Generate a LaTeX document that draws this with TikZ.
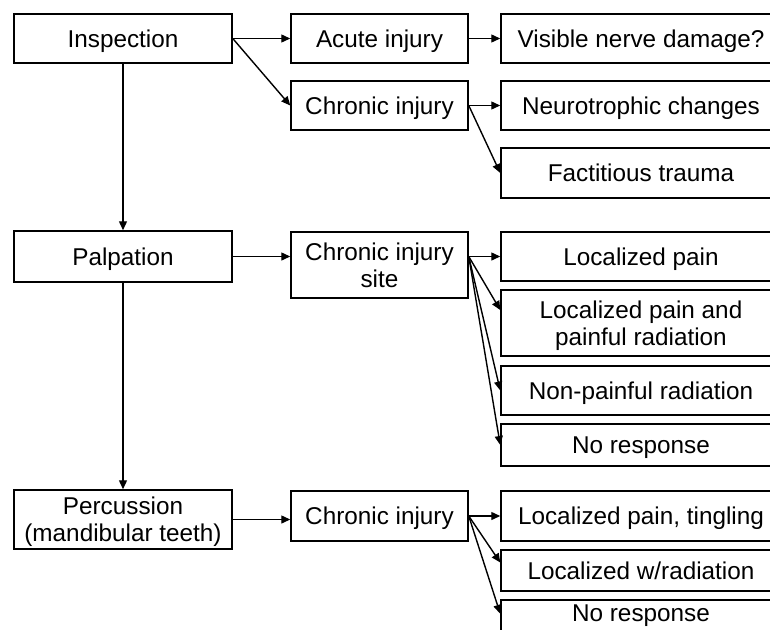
\documentclass[tikz,border=0pt]{standalone}
\usepackage{fontspec}
\setmainfont{Liberation Sans}
\usetikzlibrary{arrows.meta}

\begin{document}
\begin{tikzpicture}[x=1pt,y=-1pt,
        box/.style={draw,rectangle,line width=1.5pt,inner sep=0pt,
            font=\fontsize{24.3}{27}\selectfont,align=center,text depth=0pt},
        small/.style={box,minimum width=218pt},
        mid/.style={box,minimum width=177pt},
        wide/.style={box,minimum width=280pt},
        arr/.style={-{Triangle[length=9pt,width=8pt]},line width=1.4pt}]
\useasboundingbox (0,0) rectangle (770,629);
\clip (0,0) rectangle (770,629);

% inspection
\node[small,minimum height=49pt] (insp) at (123,38.5) {Inspection};
\node[mid,minimum height=49pt] (acute) at (379.5,38.5) {Acute injury};
\node[mid,minimum height=49pt] (chron) at (379.5,105.5) {Chronic injury};
\node[wide,minimum height=49pt] (visible) at (641,38.5) {Visible nerve damage?};
\node[wide,minimum height=49pt] (neuro) at (641,105.5) {Neurotrophic changes};
\node[wide,minimum height=50pt] (fact) at (641,173) {Factitious trauma};

\draw[arr] (insp.east) -- (acute.west);
\draw[arr] (insp.east) -- (chron.west);
\draw[arr] (acute.east) -- (visible.west);
\draw[arr] (chron.east) -- (neuro.west);
\draw[arr] (chron.east) -- (fact.west);

% palpation
\node[small,minimum height=51pt] (palp) at (123,256.5) {Palpation};
\node[mid,minimum height=66pt] (site) at (379.5,265) {Chronic injury\\site};
\node[wide,minimum height=49pt] (lp) at (641,256.5) {Localized pain};
\node[wide,minimum height=66pt] (lpr) at (641,323) {Localized pain and\\painful radiation};
\node[wide,minimum height=49pt] (npr) at (641,390.5) {Non-painful radiation};
\node[wide,minimum height=42pt] (nra) at (641,445) {No response};
\coordinate (sitefan) at (site.east |- lp.west);

\draw[arr] (insp.south) -- (palp.north);
\draw[arr] (palp.east) -- (palp.east -| site.west);
\draw[arr] (sitefan) -- (lp.west);
\draw[arr] (sitefan) -- ([yshift=13pt]lpr.west);
\draw[arr] (sitefan) -- (npr.west);
\draw[arr] (sitefan) -- (nra.west);

% percussion
\node[small,minimum height=59pt] (perc) at (123,519.5) {Percussion\\(mandibular teeth)};
\node[mid,minimum height=50pt] (chrontwo) at (379.5,516) {Chronic injury};
\node[wide,minimum height=50pt] (lpt) at (641,516) {Localized pain, tingling};
\node[wide,minimum height=41pt] (lwr) at (641,570.5) {Localized w/radiation};
\node[wide,anchor=north,minimum height=0pt,inner ysep=4pt,text height=18pt,
    text depth=40pt] (nrb) at (641,599) {No response};

\draw[arr] (palp.south) -- (palp.south |- perc.north);
\draw[arr] (perc.east) -- (perc.east -| chrontwo.west);
\draw[arr] (chrontwo.east) -- (lpt.west);
\draw[arr] (chrontwo.east) -- ([yshift=8pt]lwr.west);
\draw[arr] (chrontwo.east) -- ([yshift=8pt]nrb.base west);
\end{tikzpicture}
\end{document}
